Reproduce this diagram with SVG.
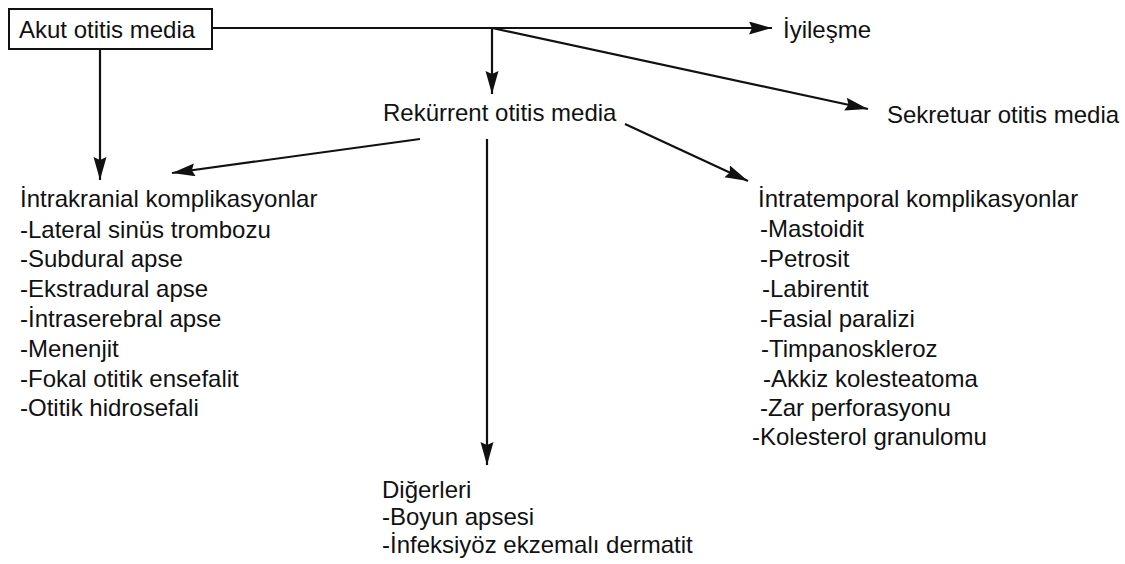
<svg xmlns="http://www.w3.org/2000/svg" width="1125" height="564" viewBox="0 0 1125 564">
<style>
.t{font-family:"Liberation Sans",Arial,sans-serif;font-size:24px;fill:#111;}
.box{fill:#fff;stroke:#111;stroke-width:2;}
.c{fill:none;stroke:#111;stroke-width:2.2;}
</style>
<defs>
<marker id="ah" markerUnits="userSpaceOnUse" markerWidth="24" markerHeight="14" refX="23" refY="6.5" orient="auto">
<path d="M0,0 L23,6.5 L0,13 L3,6.5 z" fill="#111"/>
</marker>
</defs>
<rect width="1125" height="564" fill="#fff"/>
<g id="connectors">
<line class="c" x1="212" y1="28" x2="772" y2="28" marker-end="url(#ah)"/>
<line class="c" x1="100" y1="49" x2="100" y2="180" marker-end="url(#ah)"/>
<line class="c" x1="492" y1="28" x2="492" y2="94" marker-end="url(#ah)"/>
<line class="c" x1="492" y1="28" x2="868" y2="109" marker-end="url(#ah)"/>
<line class="c" x1="420" y1="139" x2="172" y2="173" marker-end="url(#ah)"/>
<line class="c" x1="487" y1="139" x2="487" y2="465" marker-end="url(#ah)"/>
<line class="c" x1="625" y1="124" x2="748" y2="181" marker-end="url(#ah)"/>
</g>
<g id="akut">
<rect class="box" x="9" y="9" width="203" height="40"/>
<text class="t" x="19" y="38">Akut otitis media</text>
</g>
<g id="iyilesme">
<text class="t" x="783" y="38">İyileşme</text>
</g>
<g id="rekurrent">
<text class="t" x="383" y="121">Rekürrent otitis media</text>
</g>
<g id="sekretuar">
<text class="t" x="887" y="123">Sekretuar otitis media</text>
</g>
<g id="intrakranial">
<text class="t" x="20" y="207">İntrakranial komplikasyonlar</text>
<text class="t" x="20" y="238">-Lateral sinüs trombozu</text>
<text class="t" x="20" y="267">-Subdural apse</text>
<text class="t" x="20" y="297">-Ekstradural apse</text>
<text class="t" x="20" y="327">-İntraserebral apse</text>
<text class="t" x="20" y="357">-Menenjit</text>
<text class="t" x="20" y="387">-Fokal otitik ensefalit</text>
<text class="t" x="20" y="416">-Otitik hidrosefali</text>
</g>
<g id="intratemporal">
<text class="t" x="758" y="207">İntratemporal komplikasyonlar</text>
<text class="t" x="760" y="237">-Mastoidit</text>
<text class="t" x="760" y="267">-Petrosit</text>
<text class="t" x="762" y="297">-Labirentit</text>
<text class="t" x="760" y="327">-Fasial paralizi</text>
<text class="t" x="761" y="357">-Timpanoskleroz</text>
<text class="t" x="763" y="387">-Akkiz kolesteatoma</text>
<text class="t" x="760" y="416">-Zar perforasyonu</text>
<text class="t" x="752" y="445">-Kolesterol granulomu</text>
</g>
<g id="digerleri">
<text class="t" x="382" y="498">Diğerleri</text>
<text class="t" x="382" y="525">-Boyun apsesi</text>
<text class="t" x="382" y="553">-İnfeksiyöz ekzemalı dermatit</text>
</g>
</svg>
